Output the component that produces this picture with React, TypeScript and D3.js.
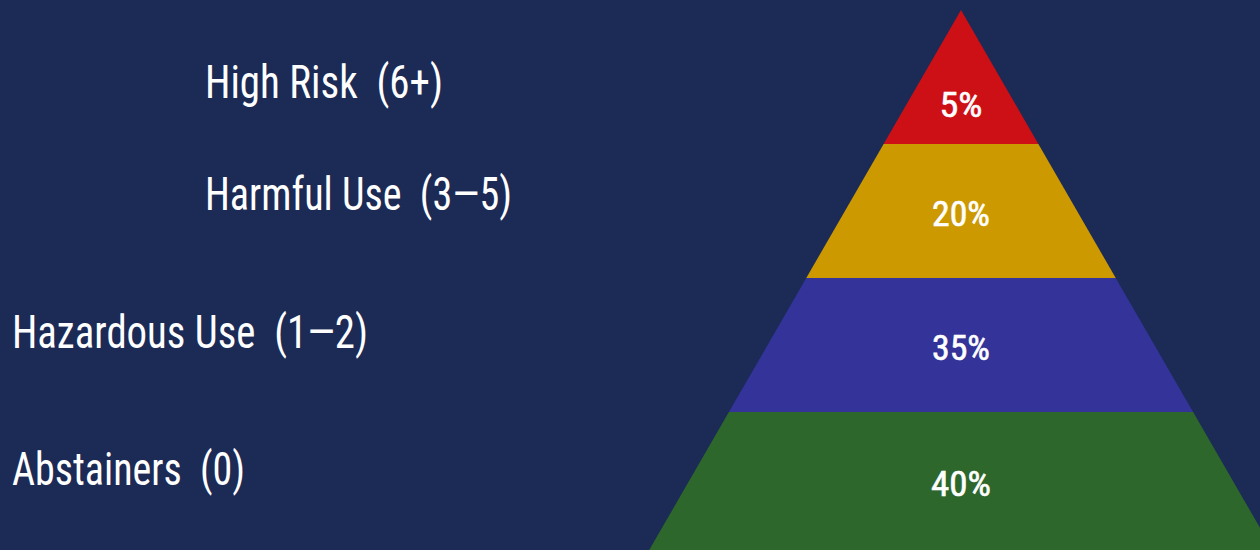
import React from "react";
import * as d3 from "d3";

const categories = ["High Risk  (6+)", "Harmful Use  (3\u20145)", "Hazardous Use  (1\u20142)", "Abstainers  (0)"];
const percents = [5, 20, 35, 40];
const colors = ["#cc1016", "#cc9900", "#333399", "#2e672b"];

const W = 1260;
const H = 550;
const APEX_X = 961;
const APEX_Y = 10;
const BAND_BOTTOM = 546;
const SLOPE = 0.5774;
const labelX = [205, 205, 12, 12];
const labelBaseline = [98, 210, 348, 485];
const labelWidth = [238, 307, 356, 233];
const pctWidth = [43, 58, 58, 60];
const FONT = "'Liberation Sans Narrow', 'Arial Narrow', 'Roboto Condensed', sans-serif";

export default function App() {
  const y = d3.scaleLinear().domain([0, categories.length]).range([APEX_Y, BAND_BOTTOM]);
  const half = (yy: number) => (yy - APEX_Y) * SLOPE;
  const bands = categories.map((c, i) => {
    const last = i === categories.length - 1;
    const y0 = y(i);
    const y1 = last ? H + 2 : y(i + 1);
    const pts: [number, number][] = [
      [APEX_X - half(y0), y0],
      [APEX_X + half(y0), y0],
      [APEX_X + half(y1), y1],
      [APEX_X - half(y1), y1],
    ];
    const line = d3.line().curve(d3.curveLinearClosed);
    const yMid = (y0 + Math.min(y1, H)) / 2;
    const ly = i === 0 ? y0 + (y(1) - y0) * 0.8 : yMid + 14.5;
    return { c, i, d: line(pts) as string, ly };
  });
  return (
    <div style={{ position: "fixed", left: 0, top: 0, width: W, height: H }}>
      <svg width={W} height={H} style={{ display: "block" }}>
        <rect x={0} y={0} width={W} height={H} fill="#1c2a56" />
        {bands.map((b) => (
          <path key={"p" + b.i} d={b.d} fill={colors[b.i]} />
        ))}
        {bands.map((b) => (
          <text
            key={"v" + b.i}
            x={APEX_X}
            y={b.ly}
            textAnchor="middle"
            fill="#ffffff"
            stroke="#ffffff"
            strokeWidth={0.6}
            fontFamily={FONT}
            fontSize={35}
            textLength={pctWidth[b.i]}
            lengthAdjust="spacingAndGlyphs"
          >
            {percents[b.i] + "%"}
          </text>
        ))}
        {categories.map((c, i) => (
          <text
            key={"l" + i}
            x={labelX[i]}
            y={labelBaseline[i]}
            fill="#ffffff"
            fontFamily={FONT}
            fontSize={46}
            textLength={labelWidth[i]}
            lengthAdjust="spacingAndGlyphs"
            style={{ whiteSpace: "pre" }}
          >
            {c}
          </text>
        ))}
      </svg>
    </div>
  );
}
